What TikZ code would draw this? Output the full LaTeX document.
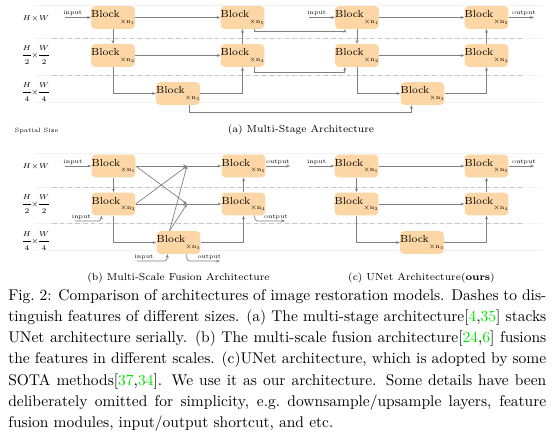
\RequirePackage{fix-cm}
\documentclass[tikz,border=0pt]{standalone}
\usepackage{xcolor}
\usetikzlibrary{arrows.meta,calc}
\definecolor{blockfill}{RGB}{252,214,165}
\definecolor{linkgray}{RGB}{128,128,128}
\definecolor{citegreen}{RGB}{0,230,0}
\newcommand\nsub[1]{\raisebox{-3.4pt}{\fontsize{4}{5}\selectfont$\times\mathrm{n}_{#1}$}}
\newcommand\cit[1]{\textcolor{citegreen}{#1}}
\newcommand\fracsize[1]{$\nulldelimiterspace=0pt\displaystyle\frac{H}{#1}{\times}\frac{W}{#1}$}
\tikzset{
  blk/.style={fill=blockfill, rounded corners=2.5pt, minimum width=25.8pt, minimum height=14.6pt,
    inner sep=0pt, font=\fontsize{6.6}{8}\selectfont},
  lnk/.style={draw=linkgray, line width=0.45pt, -{Stealth[length=2.4pt,width=1.9pt]}},
  lbl/.style={font=\fontsize{3.8}{4.5}\selectfont, inner sep=0.8pt},
  sizelbl/.style={font=\fontsize{4.6}{5.5}\selectfont, inner sep=0pt},
  subcap/.style={font=\fontsize{6.6}{8}\selectfont, inner sep=0pt},
  dashline/.style={draw=black!22, line width=0.6pt, dash pattern=on 3pt off 2pt},
  faintline/.style={draw=black!5, line width=0.5pt}
}
\begin{document}
\begin{tikzpicture}[x=0.645pt,y=-0.645pt]
  \useasboundingbox (0,0) rectangle (554,436);
  % rows of the two upper panels and of the two lower ones
  \def\ra{17.5}
  \def\rb{55.5}
  \def\rc{93.5}
  \def\rd{166}
  \def\re{204}
  \def\rf{242.5}

  % row separators
  \foreach \y in {5,38,75,102,153.5,187,223,250.5}
    \draw[faintline] (35,\y) -- (543,\y);
  \foreach \y in {38,75,187,223}
    \draw[dashline] (52,\y) -- (523,\y);

  % spatial sizes
  \node[sizelbl] (sa1) at (36,19) {$H{\times}W$};
  \node[sizelbl] (sa2) at (36,55) {\fracsize{2}};
  \node[sizelbl] (sa3) at (36,92) {\fracsize{4}};
  \node[sizelbl] (sb1) at (36,167) {$H{\times}W$};
  \node[sizelbl] (sb2) at (36,204) {\fracsize{2}};
  \node[sizelbl] (sb3) at (36,241) {\fracsize{4}};
  \node[font=\fontsize{4}{5}\selectfont, inner sep=0pt] (spsize) at (36.5,131) {Spatial Size};

  %%%%% (a) multi-stage %%%%%
  \node[blk] (ma1) at (113,\ra) {Block\nsub{1}};
  \node[blk] (ma2) at (113,\rb) {Block\nsub{2}};
  \node[blk] (ma3) at (178,\rc) {Block\nsub{3}};
  \node[blk] (ma4) at (242.5,\rb) {Block\nsub{4}};
  \node[blk] (ma5) at (242.5,\ra) {Block\nsub{5}};
  \node[blk] (mb1) at (357,\ra) {Block\nsub{1}};
  \node[blk] (mb2) at (357,\rb) {Block\nsub{2}};
  \node[blk] (mb3) at (422.5,\rc) {Block\nsub{3}};
  \node[blk] (mb4) at (486.5,\rb) {Block\nsub{4}};
  \node[blk] (mb5) at (486.5,\ra) {Block\nsub{5}};

  \coordinate (ina) at (65,\ra);
  \coordinate (inb) at (309,\ra);
  \coordinate (outa) at (534,\ra);
  \draw[lnk] (ina) -- (ma1) node[lbl,pos=0.3,above] {input};
  \draw[lnk] (inb) -- (mb1) node[lbl,pos=0.3,above] {input};
  \draw[lnk] (mb5) -- (outa) node[lbl,pos=0.6,above] {output};

  \foreach \s in {ma,mb}{
    \draw[lnk] (\s1) -- (\s5);
    \draw[lnk] (\s2) -- (\s4);
    \draw[lnk] (\s1) -- (\s2);
    \draw[lnk] (\s2) |- (\s3);
    \draw[lnk] (\s3) -| (\s4);
    \draw[lnk] (\s4) -- (\s5);
  }
  % stage to stage
  \draw[lnk] ($(ma5.south east)+(-10,0)$) -- ++(0,2.5) -| ($(mb1.south west)+(10,0)$);
  \draw[lnk] ($(ma4.south east)+(-10,0)$) -- ++(0,5.5) -| ($(mb2.south west)+(10,0)$);
  \draw[lnk] ($(ma3.south east)+(-11,0)$) -- ++(0,7.5) -| ($(mb3.south west)+(11,0)$);

  \node[subcap] (capa) at (301,130) {(a) Multi-Stage Architecture};

  %%%%% (b) multi-scale fusion %%%%%
  \node[blk] (f1) at (113.5,\rd) {Block\nsub{1}};
  \node[blk] (f2) at (113.5,\re) {Block\nsub{2}};
  \node[blk] (f3) at (178.5,\rf) {Block\nsub{3}};
  \node[blk] (f4) at (243.5,\re) {Block\nsub{4}};
  \node[blk] (f5) at (243.5,\rd) {Block\nsub{5}};
  \coordinate (fa) at (187,\rd);
  \coordinate (fb) at (187,\re);

  \draw[lnk] (f1) -- (fa);
  \draw[lnk] (f2) -- (fb);
  \draw[lnk] (f1.east) -- (fb);
  \draw[lnk] (f2.east) -- (fa);
  \draw[lnk] ($(f3.north)+(-9,0)$) -- (fa);
  \draw[lnk] ($(f3.north)+(-9,0)$) -- (fb);
  \draw[lnk] (fa) -- (f5);
  \draw[lnk] (fb) -- (f4);
  \draw[lnk] (f1) -- (f2);
  \draw[lnk] (f2) |- (f3);
  \draw[lnk] (f3) -| (f4);
  \draw[lnk] (f4) -- (f5);

  \coordinate (inf1) at (65,\rd);
  \coordinate (outf5) at (290,\rd);
  \coordinate (inf2) at (75,221);
  \coordinate (outf4) at (285,221);
  \coordinate (inf3) at (137,261);
  \coordinate (outf3) at (220,261);
  \draw[lnk] (inf1) -- (f1) node[lbl,pos=0.3,above] {input};
  \draw[lnk] (f5) -- (outf5) node[lbl,pos=0.5,above] {output};
  \draw[lnk,rounded corners=2pt] (inf2) -| ($(f2.south west)+(10,0)$) node[lbl,pos=0.12,above] {input};
  \draw[lnk,rounded corners=2pt] (inf3) -| ($(f3.south west)+(11,0)$) node[lbl,pos=0.115,above] {input};
  \draw[lnk,rounded corners=2pt] ($(f4.south east)+(-11,0)$) |- (outf4) node[lbl,pos=0.85,above] {output};
  \draw[lnk,rounded corners=2pt] ($(f3.south east)+(-14,0)$) |- (outf3) node[lbl,pos=0.84,above] {output};

  \node[subcap] (capb) at (178.5,278) {(b) Multi-Scale Fusion Architecture};

  %%%%% (c) unet %%%%%
  \node[blk] (u1) at (356.5,\rd) {Block\nsub{1}};
  \node[blk] (u2) at (356.5,\re) {Block\nsub{2}};
  \node[blk] (u3) at (422,\rf) {Block\nsub{3}};
  \node[blk] (u4) at (486.5,\re) {Block\nsub{4}};
  \node[blk] (u5) at (486.5,\rd) {Block\nsub{5}};
  \draw[lnk] (u1) -- (u5);
  \draw[lnk] (u2) -- (u4);
  \draw[lnk] (u1) -- (u2);
  \draw[lnk] (u2) |- (u3);
  \draw[lnk] (u3) -| (u4);
  \draw[lnk] (u4) -- (u5);
  \coordinate (inu) at (309,\rd);
  \coordinate (outu) at (534,\rd);
  \draw[lnk] (inu) -- (u1) node[lbl,pos=0.3,above] {input};
  \draw[lnk] (u5) -- (outu) node[lbl,pos=0.6,above] {output};

  \node[subcap] (capc) at (421.5,278) {(c) UNet Architecture(\textbf{ours})};

  %%%%% caption %%%%%
  \node[anchor=north west, inner sep=0pt, text width=347pt, align=justify,
        font=\fontsize{10}{13.7}\selectfont] (figcap) at (8,289)
  {Fig.~2: Comparison of architectures of image restoration models. Dashes to dis-\linebreak
   tinguish features of different sizes. (a) The multi-stage architecture[\cit{4},\cit{35}] stacks\linebreak
   UNet architecture serially. (b) The multi-scale fusion architecture[\cit{24},\cit{6}] fusions\linebreak
   the features in different scales. (c)UNet architecture, which is adopted by some\linebreak
   SOTA methods[\cit{37},\cit{34}]. We use it as our architecture. Some details have been\linebreak
   deliberately omitted for simplicity, e.g.\ downsample/upsample layers, feature\linebreak
   fusion modules, input/output shortcut, and etc.};
\end{tikzpicture}
\end{document}
